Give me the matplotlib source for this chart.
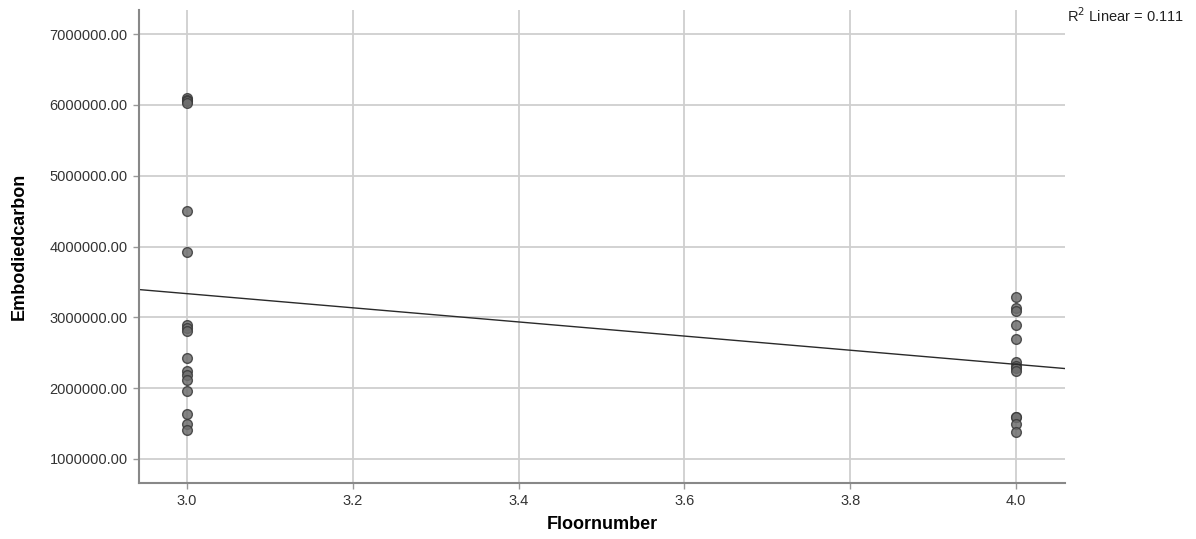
import numpy as np
import matplotlib.pyplot as plt

# Floor number groups and embodied carbon values
floors_3 = [3.0] * 17
carbon_3 = [6100000, 6070000, 6050000, 6030000, 4500000, 3930000,
            2890000, 2850000, 2810000, 2430000, 2240000, 2180000,
            2120000, 1960000, 1630000, 1490000, 1410000]
floors_4 = [4.0] * 13
carbon_4 = [3290000, 3130000, 3090000, 2890000, 2700000, 2370000,
            2320000, 2280000, 2240000, 1600000, 1590000, 1490000, 1380000]

x = np.array(floors_3 + floors_4)
y = np.array(carbon_3 + carbon_4, dtype=float)

yticks = [1000000, 2000000, 3000000, 4000000, 5000000, 6000000, 7000000]
xticks = [3.0, 3.2, 3.4, 3.6, 3.8, 4.0]

plt.rcParams['font.family'] = ['Liberation Sans', 'DejaVu Sans']

fig = plt.figure(figsize=(11.96, 5.39), dpi=100)
ax = fig.add_axes([0.1162, 0.1039, 0.7743, 0.8775])

ax.set_xlim(2.942, 4.059)
ax.set_ylim(661000, 7340000)

ax.grid(True, color='#cfcfcf', lw=1.3)
ax.set_axisbelow(True)

ax.plot(x, y, 'o', ms=7, mfc='#6e6e6e', mec='#3a3a3a', mew=1.0, alpha=0.85)

# fit line
slope, icpt = np.polyfit(x, y, 1)
xl = np.array(ax.get_xlim())
ax.plot(xl, icpt + slope * xl, color='#2a2a2a', lw=1.0)

ax.set_xticks(xticks)
ax.set_xticklabels(['%.1f' % v for v in xticks])
ax.set_yticks(yticks)
ax.set_yticklabels(['%.2f' % v for v in yticks])
ax.tick_params(length=4, width=1, color='#999999', direction='out',
               labelsize=10.5, labelcolor='#333333', pad=4)

for s in ['top', 'right']:
    ax.spines[s].set_visible(False)
for s in ['left', 'bottom']:
    ax.spines[s].set_color('#888888')
    ax.spines[s].set_linewidth(1.5)

ax.set_xlabel('Floornumber', fontsize=13, fontweight='bold', labelpad=6)
ax.set_ylabel('Embodiedcarbon', fontsize=13, fontweight='bold', labelpad=16)

fig.text(0.8925, 0.960, r'R$^2$ Linear = 0.111', fontsize=10.5, color='#222222')

fig.savefig('out.png', dpi=100)
